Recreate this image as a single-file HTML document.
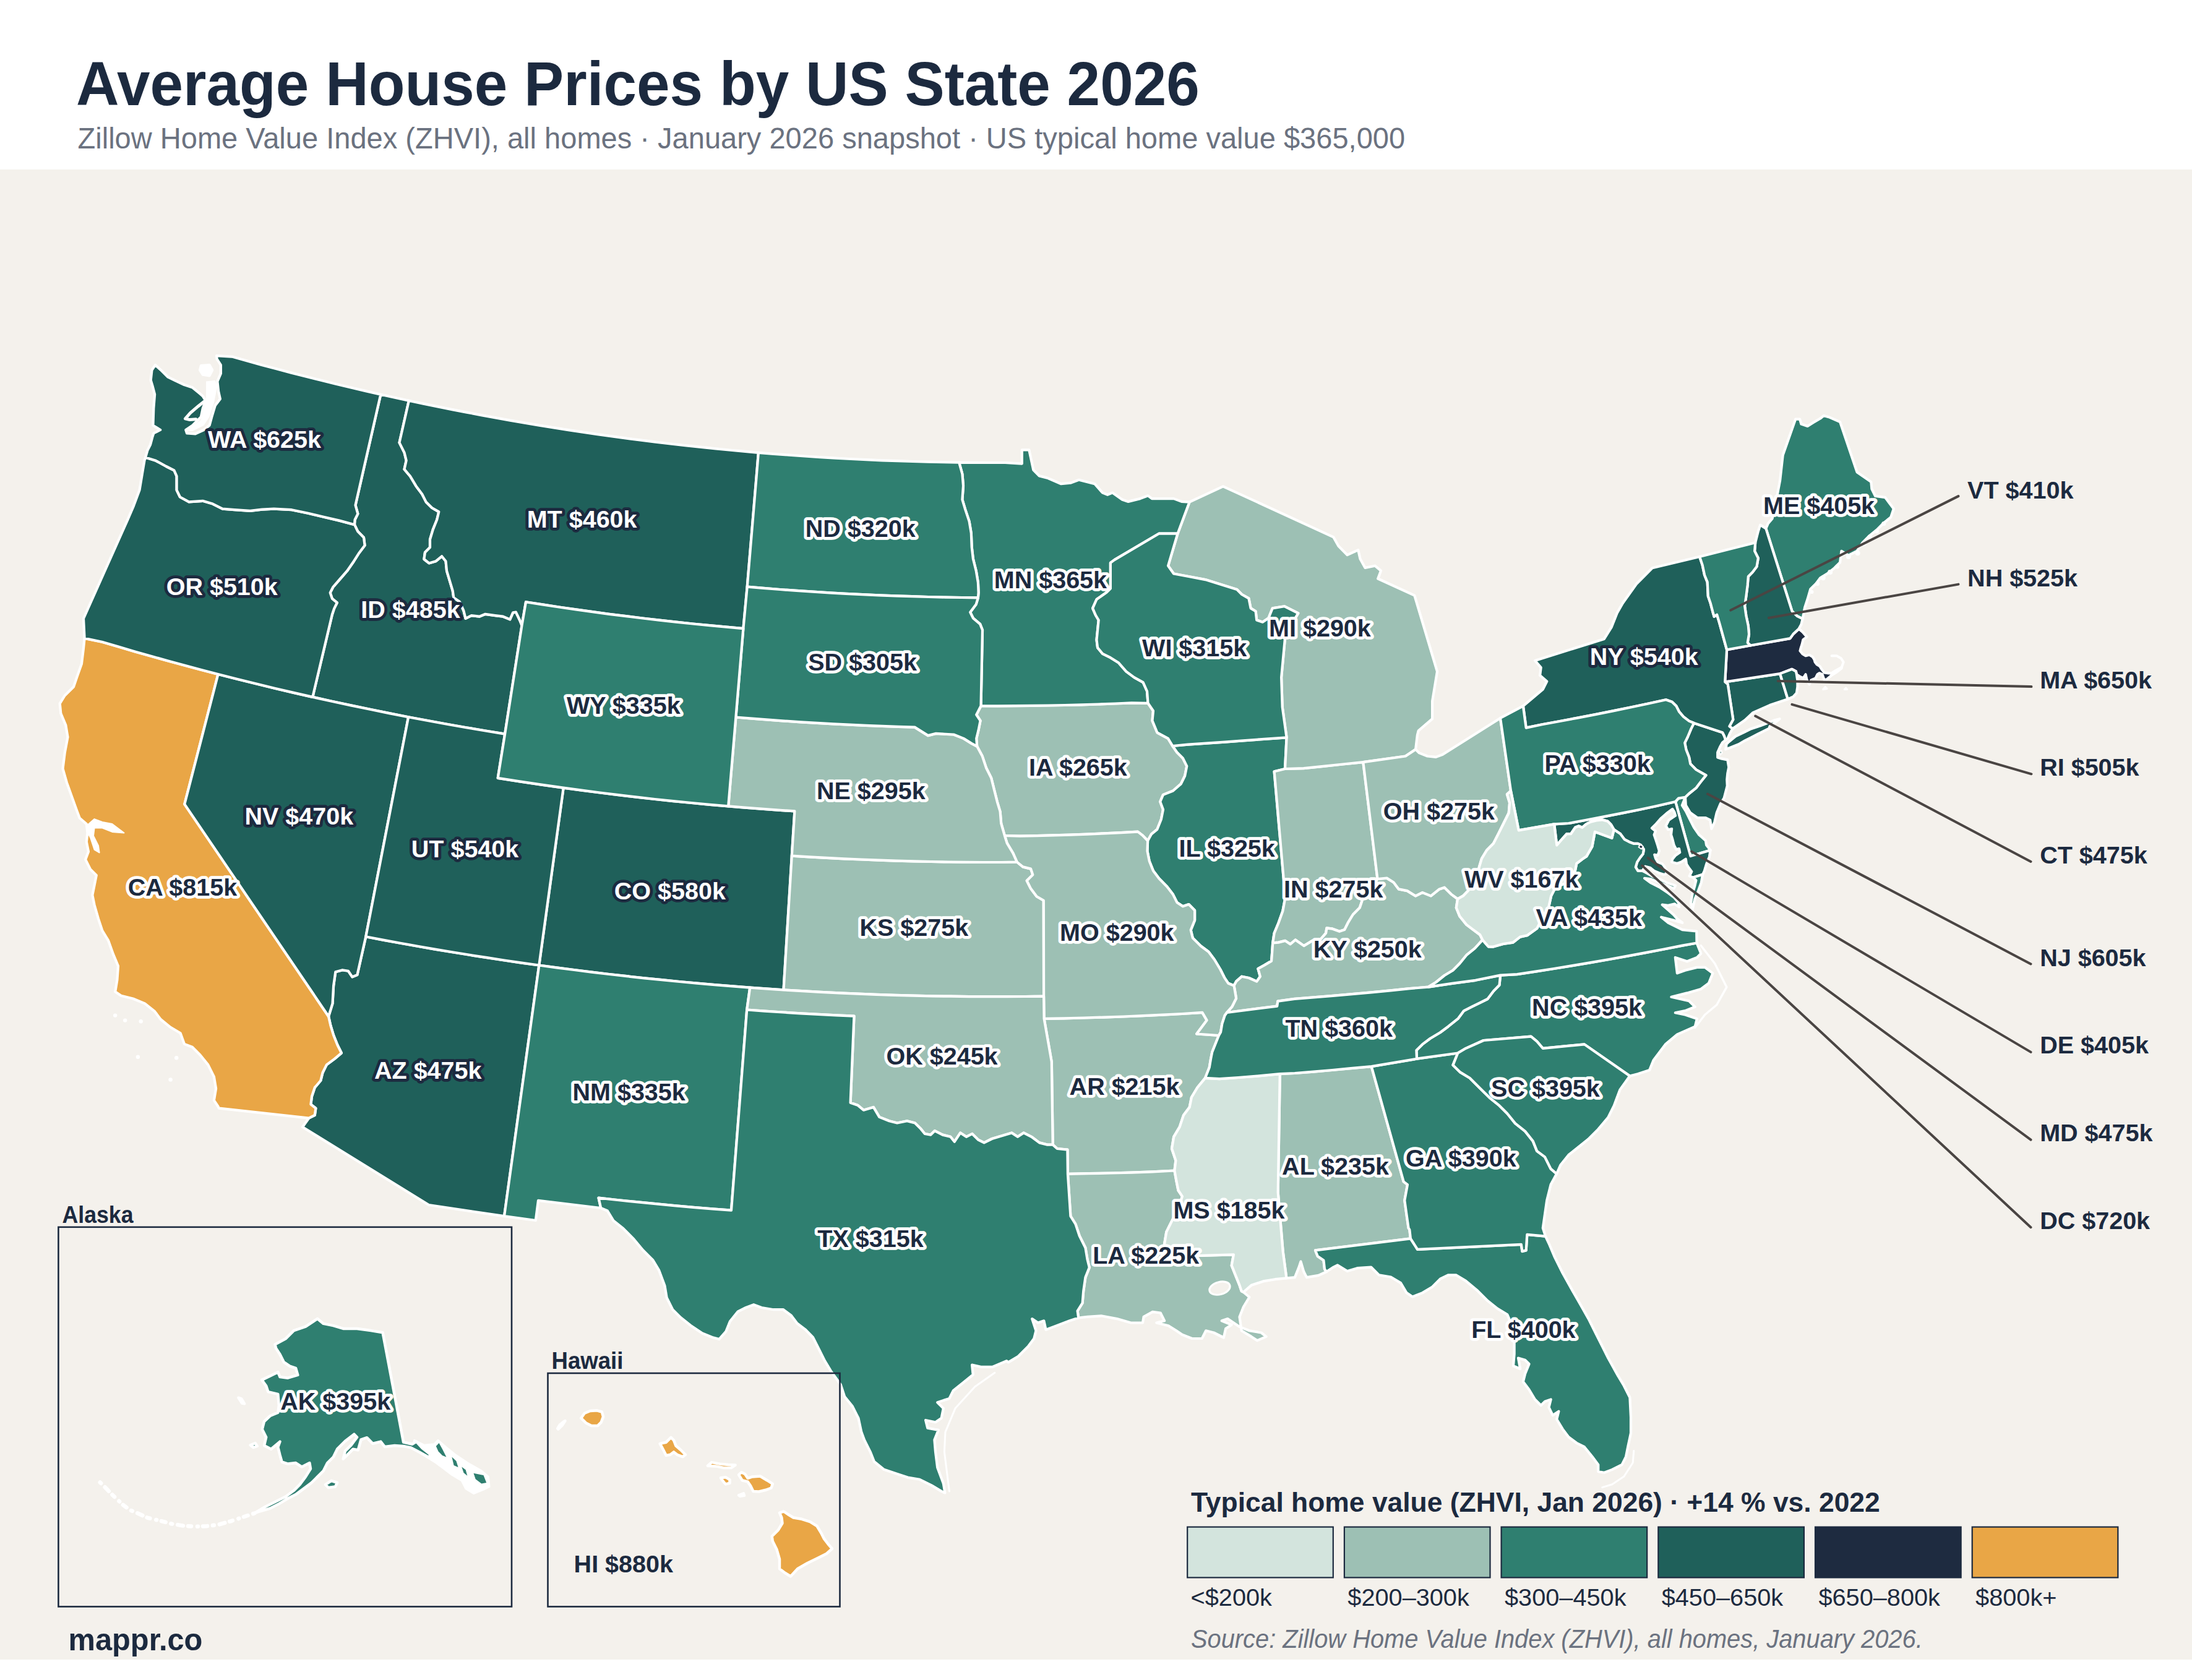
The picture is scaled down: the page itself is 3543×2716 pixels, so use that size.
<!DOCTYPE html>
<html lang="en"><head><meta charset="utf-8"><title>Average House Prices by US State 2026</title>
<style>html,body{margin:0;padding:0;background:#fff}body{width:3543px;height:2716px;position:relative;overflow:hidden}</style></head>
<body>
<svg width="3543" height="2716" viewBox="0 0 3543 2716" style="display:block;position:absolute;left:0;top:0">
<rect x="0" y="0" width="3543" height="2716" fill="#ffffff"/>
<rect x="0" y="274" width="3543" height="2409" fill="#f4f1ec"/>
<g stroke="#ffffff" stroke-width="4.2" stroke-linejoin="round">
<path d="M2068.8,1736.1 2092.7,1735.0 2122.9,1732.6 2153.1,1730.0 2183.2,1727.2 2216.7,1724.1 2268.7,1910.4 2275.0,1915.1 2270.3,1940.7 2273.4,1963.0 2276.6,1985.4 2278.3,1987.9 2279.9,2002.3 2126.0,2021.4 2129.8,2031.0 2139.4,2037.4 2141.0,2051.8 2144.0,2056.0 2131.2,2061.9 2112.0,2065.1 2107.2,2055.5 2102.5,2039.5 2099.3,2049.1 2092.9,2065.1 2079.4,2066.3 2073.7,2023.5 2065.7,1927.7 2068.8,1736.1Z" fill="#9dc0b4"/>
<path d="M1687.6,1646.8 1699.8,1716.5 1701.7,1850.6 1708.8,1857.0 1725.4,1858.6 1725.9,1897.8 1760.2,1897.2 1794.5,1896.5 1828.7,1895.6 1863.0,1894.4 1898.4,1892.5 1900.4,1876.1 1894.0,1857.0 1897.2,1837.8 1906.7,1821.9 1913.1,1802.7 1922.7,1789.9 1925.9,1774.0 1935.5,1758.0 1948.0,1742.8 1954.7,1725.8 1957.0,1712.1 1959.3,1700.7 1963.9,1689.3 1970.0,1674.0 1934.2,1671.5 1950.6,1649.4 1943.3,1636.9 1910.7,1639.0 1878.9,1640.7 1847.0,1642.2 1815.1,1643.5 1783.3,1644.6 1751.4,1645.5 1719.5,1646.3 1687.6,1646.8Z" fill="#9dc0b4"/>
<path d="M591.3,1514.3 619.2,1519.6 647.1,1524.7 675.1,1529.7 703.0,1534.6 731.0,1539.3 759.0,1543.8 787.1,1548.2 815.1,1552.5 843.2,1556.6 871.3,1560.5 815.0,1966.2 693.1,1948.0 489.0,1822.0 499.2,1807.7 508.8,1802.9 510.4,1791.7 502.4,1785.3 504.0,1772.5 508.8,1758.2 518.3,1747.0 521.5,1734.2 527.9,1721.4 540.7,1711.9 551.9,1702.3 545.5,1689.5 539.1,1673.5 534.3,1657.6 531.1,1643.2 537.5,1622.4 539.1,1593.7 542.3,1571.3 553.5,1568.2 563.0,1569.8 569.4,1579.3 577.4,1576.1 591.3,1514.3Z" fill="#1f605a"/>
<path d="M136.6,1031.9 164.8,1037.7 191.5,1045.6 218.2,1053.4 245.0,1061.0 271.8,1068.5 298.7,1075.8 325.6,1083.0 352.5,1090.0 298.3,1300.1 531.1,1643.2 534.3,1657.6 539.1,1673.5 545.5,1689.5 551.9,1702.3 540.7,1711.9 527.9,1721.4 521.5,1734.2 518.3,1747.0 508.8,1758.2 504.0,1772.5 502.4,1785.3 510.4,1791.7 508.8,1802.9 499.2,1807.7 353.9,1791.7 352.3,1788.5 345.9,1778.9 349.1,1759.8 345.9,1740.6 336.3,1721.4 323.5,1705.5 310.8,1692.7 298.0,1687.9 291.6,1670.3 275.6,1660.8 259.7,1648.0 250.1,1635.2 234.1,1622.4 215.0,1614.5 195.8,1609.7 186.2,1603.3 189.4,1584.1 191.0,1561.8 183.0,1542.6 175.0,1520.3 165.4,1504.6 159.0,1485.4 152.6,1463.0 149.4,1447.1 152.6,1431.1 155.8,1415.1 146.2,1405.6 138.2,1389.6 143.0,1376.8 139.8,1360.9 141.4,1346.5 139.8,1332.1 128.7,1322.5 123.9,1309.8 115.9,1287.4 107.9,1265.1 101.5,1242.7 104.7,1217.2 109.5,1191.6 106.3,1172.4 98.3,1153.3 96.7,1137.3 104.7,1124.5 119.1,1110.2 123.9,1095.8 131.9,1073.4 135.0,1047.9 136.6,1031.9Z" fill="#e9a646"/>
<path d="M1177.2,1303.4 1147.5,1300.8 1117.8,1298.0 1088.2,1295.1 1058.5,1292.0 1028.9,1288.6 999.3,1285.2 969.8,1281.5 940.2,1277.7 910.7,1273.7 871.3,1560.5 899.6,1564.4 928.0,1568.0 956.3,1571.6 984.7,1575.0 1013.1,1578.2 1041.5,1581.3 1069.9,1584.2 1098.3,1587.0 1126.8,1589.6 1155.2,1592.1 1183.7,1594.4 1212.2,1596.6 1266.5,1600.3 1279.8,1383.6 1284.4,1311.4 1257.5,1309.6 1230.7,1307.7 1203.9,1305.6 1177.2,1303.4Z" fill="#1f605a"/>
<path d="M2788.2,1102.4 2792.7,1106.2 2801.3,1163.2 2795.3,1174.2 2800.3,1178.2 2820.4,1164.2 2833.4,1152.1 2860.5,1140.1 2889.7,1130.2 2877.1,1089.1 2788.2,1102.4Z" fill="#1f605a"/>
<path d="M2708.1,1296.0 2732.5,1384.0 2764.6,1374.5 2758.1,1366.2 2756.9,1359.0 2746.2,1349.5 2737.9,1337.6 2730.7,1323.3 2724.8,1311.4 2718.8,1301.9 2724.0,1288.8 2712.9,1290.6 2708.1,1296.0Z" fill="#2f7f70"/>
<path d="M2279.9,2002.3 2126.0,2021.4 2129.8,2031.0 2139.4,2037.4 2141.0,2051.8 2144.0,2056.0 2155.4,2048.6 2161.8,2045.4 2177.7,2055.0 2193.7,2050.2 2216.1,2048.6 2228.8,2061.3 2248.0,2064.5 2264.0,2074.1 2273.5,2090.1 2283.1,2096.5 2299.1,2090.1 2315.1,2080.5 2327.8,2067.7 2340.6,2061.3 2353.4,2061.3 2369.3,2070.9 2388.5,2086.9 2404.5,2102.9 2420.4,2115.6 2436.4,2125.2 2444.4,2144.4 2447.6,2163.5 2447.6,2189.1 2446.0,2208.2 2457.2,2213.0 2454.0,2195.5 2465.1,2198.7 2471.5,2205.1 2465.1,2221.0 2461.9,2233.8 2471.5,2246.6 2481.1,2262.5 2490.7,2272.1 2497.1,2265.7 2506.7,2262.5 2503.5,2275.3 2509.8,2288.1 2519.4,2281.7 2516.2,2294.5 2525.8,2310.4 2535.4,2323.2 2548.2,2332.8 2560.9,2339.2 2573.7,2355.1 2583.3,2367.9 2583.3,2379.1 2592.9,2380.7 2605.7,2375.9 2621.6,2367.9 2628.0,2355.1 2631.2,2339.2 2636.0,2316.8 2636.0,2291.3 2634.4,2259.3 2624.8,2240.2 2615.2,2224.2 2599.3,2195.5 2589.7,2176.3 2580.1,2157.2 2567.3,2131.6 2554.6,2109.3 2541.8,2086.9 2525.8,2058.2 2513.0,2032.6 2503.5,2010.3 2498.0,1998.6 2468.3,1995.9 2466.7,2021.4 2460.4,2023.0 2458.8,2011.9 2291.1,2019.8 2279.9,2002.3Z" fill="#2f7f70"/>
<path d="M2216.7,1724.1 2290.0,1711.7 2356.3,1702.5 2348.5,1721.9 2359.7,1733.1 2375.6,1742.7 2391.6,1758.7 2407.6,1774.6 2423.5,1787.4 2436.3,1800.2 2449.1,1816.1 2465.1,1828.9 2477.8,1844.9 2484.2,1860.9 2497.0,1870.4 2506.6,1889.6 2516.1,1897.6 2506.6,1915.1 2500.2,1940.7 2497.0,1963.0 2493.8,1985.4 2498.0,1998.6 2468.3,1995.9 2466.7,2021.4 2460.4,2023.0 2458.8,2011.9 2291.1,2019.8 2279.9,2002.3 2278.3,1987.9 2276.6,1985.4 2273.4,1963.0 2270.3,1940.7 2275.0,1915.1 2268.7,1910.4 2216.7,1724.1Z" fill="#2f7f70"/>
<path d="M1585.5,1141.2 1578.2,1155.5 1584.6,1165.1 1581.4,1181.1 1578.2,1193.9 1579.2,1206.6 1587.8,1222.6 1594.2,1241.8 1602.2,1257.7 1607.0,1276.9 1611.8,1296.1 1616.6,1312.0 1618.2,1331.2 1623.9,1351.0 1648.5,1351.7 1675.7,1351.1 1703.0,1350.4 1730.2,1349.6 1757.5,1348.6 1784.7,1347.4 1811.9,1346.2 1839.1,1344.7 1846.5,1350.3 1855.1,1359.3 1860.9,1348.7 1870.4,1340.8 1876.8,1324.8 1880.0,1308.8 1875.2,1296.1 1880.0,1284.9 1896.0,1278.5 1908.8,1267.3 1915.1,1254.5 1918.3,1238.6 1911.9,1225.8 1902.4,1216.2 1895.3,1206.0 1888.0,1193.9 1870.4,1184.3 1862.5,1165.1 1864.0,1149.2 1855.5,1136.8 1829.1,1136.3 1802.1,1137.5 1775.0,1138.5 1747.9,1139.3 1720.9,1140.0 1693.8,1140.5 1666.7,1140.9 1639.7,1141.2 1612.6,1141.3 1585.5,1141.2Z" fill="#9dc0b4"/>
<path d="M615.3,637.7 660.9,647.7 645.5,715.6 653.5,731.6 656.7,744.4 653.5,758.7 663.0,769.9 672.6,785.9 682.2,798.7 688.6,811.4 698.2,821.0 709.3,827.4 706.2,840.2 699.8,856.1 695.0,872.1 695.0,884.9 687.0,892.9 685.4,904.0 693.4,910.4 704.6,907.2 714.1,899.3 720.5,907.2 722.1,923.2 726.9,939.2 731.7,955.1 733.3,966.3 742.9,972.7 749.3,987.1 752.5,999.8 762.0,995.1 774.8,996.7 784.4,992.8 800.4,995.1 813.1,996.7 824.3,1001.4 829.1,990.3 833.9,989.6 840.3,1003.0 843.5,1011.0 816.1,1186.6 784.8,1181.5 753.6,1176.2 722.4,1170.7 691.2,1165.0 660.1,1159.2 629.1,1153.1 598.1,1146.8 567.1,1140.4 536.2,1133.7 505.3,1126.9 536.9,993.5 540.1,983.9 544.9,974.3 536.9,967.9 533.7,958.3 538.5,948.8 549.7,936.0 560.9,923.2 572.0,907.2 580.0,894.5 589.6,881.7 588.0,868.9 578.4,859.3 573.0,848.2 573.6,840.2 578.4,830.6 574.5,816.7 615.3,637.7Z" fill="#1f605a"/>
<path d="M1855.1,1359.3 1854.5,1375.9 1857.7,1391.9 1864.0,1407.8 1873.6,1420.6 1886.4,1433.4 1896.0,1446.1 1902.4,1458.9 1911.9,1465.3 1921.5,1462.1 1931.1,1471.7 1931.1,1487.7 1924.7,1503.6 1927.9,1516.4 1940.7,1529.2 1953.5,1538.8 1963.0,1551.5 1972.6,1567.5 1979.0,1580.3 1985.4,1589.8 1994.5,1593.5 1998.1,1586.7 2007.2,1578.7 2018.6,1581.0 2031.2,1586.7 2036.9,1578.7 2033.4,1566.1 2043.7,1560.4 2055.1,1553.6 2056.2,1538.8 2057.2,1524.4 2059.6,1508.6 2066.4,1492.2 2073.3,1473.0 2077.4,1451.1 2059.6,1247.2 2077.0,1243.0 2079.6,1192.3 2009.2,1197.3 1979.5,1199.6 1949.7,1201.7 1920.0,1203.7 1895.3,1206.0 1902.4,1216.2 1911.9,1225.8 1918.3,1238.6 1915.1,1254.5 1908.8,1267.3 1896.0,1278.5 1880.0,1284.9 1875.2,1296.1 1880.0,1308.8 1876.8,1324.8 1870.4,1340.8 1860.9,1348.7 1855.1,1359.3Z" fill="#2f7f70"/>
<path d="M2077.0,1243.0 2059.6,1247.2 2077.4,1451.1 2073.3,1473.0 2066.4,1492.2 2059.6,1508.6 2057.2,1524.4 2066.4,1523.6 2077.4,1520.9 2085.6,1526.4 2093.8,1519.5 2107.5,1529.1 2121.2,1520.9 2134.9,1518.2 2143.1,1508.6 2144.4,1500.4 2154.0,1501.7 2165.0,1505.8 2173.2,1503.1 2178.6,1492.2 2186.9,1478.5 2197.8,1467.5 2203.3,1451.1 2214.2,1434.7 2226.5,1421.0 2203.3,1232.1 2170.4,1235.5 2138.7,1238.9 2107.0,1242.1 2077.0,1243.0Z" fill="#9dc0b4"/>
<path d="M1266.5,1600.3 1279.8,1383.6 1307.9,1385.3 1336.1,1386.9 1364.3,1388.3 1392.5,1389.5 1420.7,1390.6 1448.9,1391.6 1477.1,1392.4 1505.3,1393.0 1533.5,1393.5 1561.7,1393.8 1589.9,1394.0 1618.1,1394.0 1643.7,1393.5 1653.3,1401.4 1666.1,1404.6 1669.3,1414.2 1659.7,1423.8 1666.1,1436.6 1675.6,1449.3 1686.8,1455.7 1687.1,1610.7 1657.0,1611.0 1627.0,1611.2 1596.9,1611.2 1566.8,1611.1 1536.8,1610.7 1506.7,1610.3 1476.7,1609.6 1446.6,1608.8 1416.6,1607.8 1386.6,1606.6 1356.5,1605.3 1326.5,1603.8 1296.5,1602.2 1266.5,1600.3Z" fill="#9dc0b4"/>
<path d="M1994.5,1593.5 1995.8,1600.4 1998.1,1614.0 1991.2,1627.7 1983.0,1637.0 2064.2,1626.6 2065.4,1618.6 2092.3,1614.8 2123.4,1612.4 2154.4,1609.9 2185.5,1607.2 2216.5,1604.4 2247.5,1601.3 2278.6,1598.1 2308.7,1595.6 2321.0,1588.0 2334.7,1577.0 2348.4,1568.8 2359.3,1557.8 2370.3,1544.2 2383.9,1533.2 2396.3,1519.5 2392.2,1511.3 2381.2,1503.1 2370.3,1494.9 2359.3,1481.2 2353.8,1467.5 2356.0,1453.3 2345.6,1445.6 2334.7,1434.7 2326.5,1437.4 2312.8,1448.4 2299.1,1442.9 2288.1,1448.4 2274.5,1440.1 2260.8,1437.4 2252.6,1426.5 2241.6,1419.6 2226.5,1421.0 2214.2,1434.7 2203.3,1451.1 2197.8,1467.5 2186.9,1478.5 2178.6,1492.2 2173.2,1503.1 2165.0,1505.8 2154.0,1501.7 2144.4,1500.4 2143.1,1508.6 2134.9,1518.2 2121.2,1520.9 2107.5,1529.1 2093.8,1519.5 2085.6,1526.4 2077.4,1520.9 2066.4,1523.6 2057.2,1524.4 2056.2,1538.8 2055.1,1553.6 2043.7,1560.4 2033.4,1566.1 2036.9,1578.7 2031.2,1586.7 2018.6,1581.0 2007.2,1578.7 1998.1,1586.7 1994.5,1593.5Z" fill="#9dc0b4"/>
<path d="M1725.9,1897.8 1730.4,1966.1 1738.4,1978.8 1744.8,1998.0 1754.4,2017.2 1757.6,2036.3 1760.8,2049.1 1754.4,2065.1 1751.2,2087.4 1749.6,2106.6 1741.6,2119.3 1743.2,2130.5 1757.6,2128.9 1779.9,2127.3 1805.5,2132.1 1827.8,2138.5 1847.0,2138.5 1848.6,2128.9 1863.0,2120.9 1875.7,2122.5 1882.1,2135.3 1869.3,2138.5 1888.5,2143.3 1901.3,2151.3 1910.9,2157.7 1926.8,2164.0 1942.8,2164.0 1949.2,2151.3 1961.9,2154.5 1977.9,2162.5 1981.1,2148.1 1990.7,2141.7 1974.7,2135.3 1984.3,2132.1 2003.5,2144.9 2019.4,2151.3 2038.6,2154.5 2046.6,2160.9 2032.2,2167.2 2022.6,2160.9 2006.7,2151.3 2003.5,2128.9 2009.8,2113.0 2019.4,2097.0 2009.8,2089.0 2006.7,2087.4 2003.5,2077.8 1997.1,2061.9 1990.7,2045.9 1993.9,2028.3 1883.7,2031.5 1882.1,2010.8 1885.3,1991.6 1891.7,1978.8 1898.1,1966.1 1906.1,1950.1 1910.9,1934.1 1904.5,1924.5 1901.3,1908.6 1898.4,1892.5 1863.0,1894.4 1828.7,1895.6 1794.5,1896.5 1760.2,1897.2 1725.9,1897.8Z" fill="#9dc0b4"/>
<path d="M2791.1,1050.4 2788.2,1102.4 2877.1,1089.1 2896.5,1081.8 2902.9,1085.3 2903.9,1090.3 2908.5,1093.3 2914.5,1096.3 2918.5,1090.3 2920.5,1099.4 2924.5,1106.4 2927.5,1099.4 2934.6,1096.3 2937.6,1090.3 2940.6,1088.3 2945.6,1090.3 2948.6,1099.4 2952.6,1098.4 2959.6,1092.3 2967.7,1087.3 2976.7,1080.3 2976.7,1078.8 2966.7,1084.3 2960.6,1088.3 2955.6,1088.3 2948.6,1087.3 2944.6,1082.3 2941.6,1077.3 2936.6,1074.3 2933.6,1070.3 2932.5,1066.2 2929.5,1061.7 2924.5,1058.7 2918.5,1060.2 2913.5,1057.2 2909.5,1052.2 2910.5,1048.2 2912.5,1042.2 2914.5,1034.1 2920.5,1029.6 2913.5,1021.6 2907.5,1016.6 2898.4,1025.1 2893.4,1032.1 2829.2,1043.5 2791.1,1050.4Z" fill="#1e2b40"/>
<path d="M2512.2,1332.4 2516.3,1366.3 2524.3,1357.2 2532.3,1348.1 2539.1,1348.1 2546.0,1337.8 2551.7,1335.5 2557.4,1337.8 2564.2,1332.1 2571.1,1328.7 2580.2,1326.4 2589.3,1325.3 2598.4,1327.6 2604.1,1333.3 2608.7,1341.2 2619.0,1348.1 2625.8,1357.2 2634.9,1361.8 2640.2,1363.8 2647.4,1363.8 2652.1,1366.2 2656.9,1373.3 2655.7,1380.5 2651.0,1386.4 2646.2,1393.6 2643.8,1401.9 2647.4,1407.9 2654.5,1407.9 2659.3,1400.7 2667.6,1403.1 2673.6,1407.9 2681.9,1411.4 2689.0,1413.8 2692.6,1413.2 2693.8,1407.9 2690.2,1400.7 2686.7,1396.5 2679.5,1393.6 2676.0,1387.6 2674.2,1381.7 2679.5,1382.9 2681.9,1375.7 2679.5,1367.4 2676.0,1356.7 2673.6,1349.5 2676.0,1343.6 2670.0,1338.8 2677.1,1331.7 2684.3,1323.3 2693.8,1315.0 2703.3,1307.9 2706.3,1312.6 2708.1,1318.6 2697.4,1325.7 2692.6,1335.2 2696.2,1341.2 2702.1,1340.0 2701.0,1349.5 2703.3,1356.7 2705.7,1366.2 2709.3,1373.3 2714.0,1372.1 2715.2,1378.1 2708.1,1382.9 2703.3,1388.8 2702.1,1393.6 2710.5,1396.0 2717.6,1393.6 2724.8,1388.8 2726.0,1397.1 2730.7,1404.3 2734.3,1409.0 2730.7,1416.2 2736.7,1418.6 2752.1,1413.8 2754.5,1409.0 2758.1,1397.1 2762.9,1385.2 2764.6,1374.5 2732.5,1384.0 2708.1,1296.0 2676.6,1303.3 2648.4,1309.2 2620.2,1314.9 2591.9,1320.4 2563.6,1325.8 2535.3,1331.0 2512.2,1332.4Z" fill="#1f605a"/>
<path d="M2854.3,854.4 2896.5,987.9 2904.5,995.8 2913.6,1000.4 2917.1,982.1 2921.6,968.5 2926.2,952.5 2935.3,943.4 2942.2,934.2 2953.6,927.4 2965.0,918.3 2974.1,909.2 2976.4,890.9 2987.8,897.8 3001.5,890.9 3010.6,877.2 3022.0,865.8 3033.4,856.7 3044.8,845.3 3056.2,836.2 3060.8,822.5 3047.1,804.2 3031.1,802.0 3025.4,790.5 3024.3,779.1 3001.5,763.2 2974.1,682.2 2955.8,674.2 2947.9,671.9 2942.2,676.5 2930.7,683.3 2921.6,689.0 2911.4,685.6 2909.1,677.6 2902.2,677.6 2881.7,735.8 2877.1,776.9 2871.4,806.5 2864.6,838.4 2857.8,846.4 2854.3,854.4Z" fill="#2f7f70"/>
<path d="M1922.6,811.6 1903.5,862.7 1888.1,914.7 1897.1,927.5 1922.6,932.3 1948.2,937.1 1973.7,945.1 1999.3,953.0 2007.2,961.0 2018.4,967.4 2021.6,983.4 2029.6,988.2 2031.2,1002.5 2040.8,1005.7 2050.4,999.3 2056.7,983.4 2075.9,980.2 2098.3,991.4 2077.5,1026.5 2071.1,1095.1 2072.7,1143.0 2079.6,1192.3 2077.0,1243.0 2107.0,1242.1 2138.7,1238.9 2170.4,1235.5 2203.3,1232.1 2271.7,1222.5 2288.1,1211.6 2290.9,1188.3 2292.7,1181.4 2315.1,1162.2 2315.1,1133.5 2323.0,1085.6 2286.3,962.6 2227.2,935.5 2232.0,922.7 2222.4,914.7 2206.5,917.9 2198.5,903.5 2195.3,889.2 2177.7,897.2 2163.4,882.8 2155.4,868.4 1976.9,786.3 1922.6,811.6Z" fill="#9dc0b4"/>
<path d="M1550.2,747.6 1555.4,766.2 1557.0,785.4 1555.4,807.7 1560.2,823.7 1566.6,842.9 1569.8,862.0 1570.7,884.4 1572.9,903.5 1577.7,922.7 1580.9,941.9 1581.6,957.8 1580.9,966.4 1577.7,977.0 1568.2,989.8 1572.9,999.3 1584.1,1008.9 1588.0,1018.5 1585.5,1141.2 1612.6,1141.3 1639.7,1141.2 1666.7,1140.9 1693.8,1140.5 1720.9,1140.0 1747.9,1139.3 1775.0,1138.5 1802.1,1137.5 1829.1,1136.3 1855.5,1136.8 1854.0,1117.5 1847.6,1103.1 1833.2,1095.1 1820.4,1085.6 1807.7,1071.2 1794.9,1063.2 1782.1,1056.8 1774.1,1047.2 1772.5,1034.5 1774.1,1018.5 1775.7,1002.5 1770.9,994.5 1766.1,983.4 1772.5,969.0 1788.5,957.8 1794.9,951.4 1794.9,909.9 1801.3,905.1 1873.1,862.7 1903.5,862.7 1922.6,811.6 1909.8,810.9 1897.1,806.1 1861.9,806.1 1855.6,801.3 1842.8,806.1 1823.6,810.9 1814.0,807.7 1798.1,796.6 1790.1,799.8 1782.1,796.6 1769.3,782.2 1756.6,779.0 1743.8,775.8 1731.0,780.6 1715.1,782.2 1692.7,772.6 1679.9,769.4 1670.3,759.8 1663.3,727.3 1651.8,727.3 1651.8,749.6 1624.5,748.0 1599.8,748.0 1575.0,747.9 1550.2,747.6Z" fill="#2f7f70"/>
<path d="M1623.9,1351.0 1627.7,1363.1 1637.3,1379.1 1643.7,1393.5 1653.3,1401.4 1666.1,1404.6 1669.3,1414.2 1659.7,1423.8 1666.1,1436.6 1675.6,1449.3 1686.8,1455.7 1687.1,1610.7 1687.6,1646.8 1719.5,1646.3 1751.4,1645.5 1783.3,1644.6 1815.1,1643.5 1847.0,1642.2 1878.9,1640.7 1910.7,1639.0 1943.3,1636.9 1950.6,1649.4 1934.2,1671.5 1970.0,1674.0 1973.0,1668.8 1975.3,1655.1 1979.8,1641.4 1983.0,1637.0 1991.2,1627.7 1998.1,1614.0 1995.8,1600.4 1994.5,1593.5 1985.4,1589.8 1979.0,1580.3 1972.6,1567.5 1963.0,1551.5 1953.5,1538.8 1940.7,1529.2 1927.9,1516.4 1924.7,1503.6 1931.1,1487.7 1931.1,1471.7 1921.5,1462.1 1911.9,1465.3 1902.4,1458.9 1896.0,1446.1 1886.4,1433.4 1873.6,1420.6 1864.0,1407.8 1857.7,1391.9 1854.5,1375.9 1855.1,1359.3 1846.5,1350.3 1839.1,1344.7 1811.9,1346.2 1784.7,1347.4 1757.5,1348.6 1730.2,1349.6 1703.0,1350.4 1675.7,1351.1 1648.5,1351.7 1623.9,1351.0Z" fill="#9dc0b4"/>
<path d="M1898.4,1892.5 1901.3,1908.6 1904.5,1924.5 1910.9,1934.1 1906.1,1950.1 1898.1,1966.1 1891.7,1978.8 1885.3,1991.6 1882.1,2010.8 1883.7,2031.5 1993.9,2028.3 1990.7,2045.9 1997.1,2061.9 2003.5,2077.8 2006.7,2087.4 2009.8,2089.0 2022.6,2077.8 2041.8,2071.4 2060.9,2068.2 2079.4,2066.3 2073.7,2023.5 2065.7,1927.7 2068.8,1736.1 2032.0,1739.7 2001.6,1742.0 1971.1,1744.1 1948.0,1742.8 1935.5,1758.0 1925.9,1774.0 1922.7,1789.9 1913.1,1802.7 1906.7,1821.9 1897.2,1837.8 1894.0,1857.0 1900.4,1876.1 1898.4,1892.5Z" fill="#d3e4dd"/>
<path d="M660.9,647.7 684.2,652.6 707.5,657.4 730.9,662.1 754.3,666.6 777.7,671.1 801.1,675.4 824.5,679.6 848.0,683.6 871.5,687.6 895.0,691.4 918.5,695.1 942.1,698.6 965.6,702.1 989.2,705.4 1012.8,708.6 1036.4,711.7 1060.0,714.6 1083.7,717.5 1107.4,720.2 1131.0,722.7 1154.7,725.2 1178.4,727.5 1202.1,729.7 1225.9,731.8 1207.7,948.7 1201.4,1016.1 1174.2,1013.7 1147.1,1011.2 1120.0,1008.5 1092.9,1005.7 1065.8,1002.7 1038.8,999.5 1011.8,996.2 984.7,992.8 957.8,989.2 930.8,985.4 903.8,981.5 876.9,977.4 850.0,973.2 843.5,1011.0 840.3,1003.0 833.9,989.6 829.1,990.3 824.3,1001.4 813.1,996.7 800.4,995.1 784.4,992.8 774.8,996.7 762.0,995.1 752.5,999.8 749.3,987.1 742.9,972.7 733.3,966.3 731.7,955.1 726.9,939.2 722.1,923.2 720.5,907.2 714.1,899.3 704.6,907.2 693.4,910.4 685.4,904.0 687.0,892.9 695.0,884.9 695.0,872.1 699.8,856.1 706.2,840.2 709.3,827.4 698.2,821.0 688.6,811.4 682.2,798.7 672.6,785.9 663.0,769.9 653.5,758.7 656.7,744.4 653.5,731.6 645.5,715.6 660.9,647.7Z" fill="#1f605a"/>
<path d="M2425.1,1576.6 2423.5,1592.6 2414.0,1602.2 2404.4,1615.0 2391.6,1621.3 2378.8,1627.7 2366.1,1634.1 2356.5,1646.9 2340.5,1659.7 2327.7,1669.3 2311.8,1678.8 2299.0,1688.4 2289.4,1698.0 2290.0,1711.7 2356.3,1702.5 2369.3,1694.8 2398.0,1682.0 2474.6,1675.6 2484.2,1683.6 2493.8,1694.8 2560.9,1688.4 2634.3,1739.5 2647.1,1736.3 2666.2,1729.9 2672.6,1714.0 2691.8,1688.4 2710.9,1672.4 2739.7,1659.7 2742.9,1646.9 2723.7,1640.5 2707.8,1637.3 2723.7,1634.1 2739.7,1627.7 2730.1,1618.2 2701.4,1611.8 2726.9,1605.4 2749.3,1599.0 2762.0,1589.4 2768.4,1573.4 2755.7,1563.9 2742.9,1563.9 2723.7,1568.7 2710.9,1573.4 2707.8,1547.9 2726.9,1554.3 2742.9,1547.9 2749.3,1541.5 2742.5,1524.5 2719.2,1528.6 2689.6,1534.5 2660.0,1540.1 2630.4,1545.6 2600.8,1551.0 2571.1,1556.1 2541.4,1561.1 2511.6,1566.0 2481.9,1570.6 2452.1,1575.2 2425.1,1576.6Z" fill="#2f7f70"/>
<path d="M1225.9,731.8 1250.8,733.8 1275.7,735.7 1300.6,737.5 1325.5,739.1 1350.5,740.6 1375.4,742.0 1400.4,743.2 1425.3,744.3 1450.3,745.2 1475.3,746.0 1500.3,746.7 1525.2,747.2 1550.2,747.6 1555.4,766.2 1557.0,785.4 1555.4,807.7 1560.2,823.7 1566.6,842.9 1569.8,862.0 1570.7,884.4 1572.9,903.5 1577.7,922.7 1580.9,941.9 1581.6,957.8 1580.9,966.4 1554.2,966.0 1527.5,965.6 1500.8,965.0 1474.1,964.2 1447.4,963.4 1420.8,962.3 1394.1,961.1 1367.4,959.8 1340.8,958.3 1314.1,956.7 1287.5,954.9 1260.9,953.0 1234.3,950.9 1207.7,948.7 1225.9,731.8Z" fill="#2f7f70"/>
<path d="M1189.4,1159.5 1177.2,1303.4 1203.9,1305.6 1230.7,1307.7 1257.5,1309.6 1284.4,1311.4 1279.8,1383.6 1307.9,1385.3 1336.1,1386.9 1364.3,1388.3 1392.5,1389.5 1420.7,1390.6 1448.9,1391.6 1477.1,1392.4 1505.3,1393.0 1533.5,1393.5 1561.7,1393.8 1589.9,1394.0 1618.1,1394.0 1643.7,1393.5 1637.3,1379.1 1627.7,1363.1 1623.9,1351.0 1618.2,1331.2 1616.6,1312.0 1611.8,1296.1 1607.0,1276.9 1602.2,1257.7 1594.2,1241.8 1587.8,1222.6 1579.2,1206.6 1570.3,1201.9 1557.5,1193.9 1541.5,1187.5 1512.8,1185.9 1500.0,1189.1 1478.5,1175.6 1452.1,1174.8 1425.8,1173.9 1399.5,1172.9 1373.2,1171.7 1346.9,1170.4 1320.7,1168.9 1294.4,1167.3 1268.1,1165.6 1241.9,1163.7 1215.6,1161.7 1189.4,1159.5Z" fill="#9dc0b4"/>
<path d="M2829.2,1043.5 2893.4,1032.1 2898.4,1025.1 2907.5,1016.6 2911.4,1009.5 2913.6,1000.4 2904.5,995.8 2896.5,987.9 2854.3,854.4 2845.2,848.7 2841.8,859.0 2837.2,877.2 2836.1,890.9 2841.8,902.3 2839.5,916.0 2832.7,925.1 2825.8,932.0 2824.7,945.7 2822.4,963.7 2820.1,979.7 2822.4,995.6 2825.8,1011.6 2827.0,1025.3 2824.7,1039.0 2829.2,1043.5Z" fill="#1f605a"/>
<path d="M2738.0,1169.0 2733.4,1178.1 2727.7,1191.8 2723.2,1200.9 2725.5,1212.3 2730.0,1223.7 2732.3,1235.1 2741.4,1244.2 2757.4,1253.4 2748.3,1264.8 2741.4,1273.9 2730.0,1283.0 2724.0,1288.8 2724.8,1301.9 2731.9,1313.8 2743.8,1322.1 2756.9,1322.1 2764.1,1325.7 2766.4,1340.0 2771.2,1329.3 2774.8,1313.8 2780.7,1299.5 2786.7,1290.0 2791.8,1270.5 2791.3,1260.5 2792.3,1250.5 2794.3,1240.4 2792.3,1228.4 2782.2,1226.4 2776.2,1224.4 2776.2,1216.3 2780.2,1207.3 2784.2,1200.3 2789.2,1196.3 2787.2,1190.3 2784.2,1184.2 2738.0,1169.0Z" fill="#1f605a"/>
<path d="M871.3,1560.5 899.6,1564.4 928.0,1568.0 956.3,1571.6 984.7,1575.0 1013.1,1578.2 1041.5,1581.3 1069.9,1584.2 1098.3,1587.0 1126.8,1589.6 1155.2,1592.1 1183.7,1594.4 1212.2,1596.6 1207.2,1632.5 1182.0,1956.7 1151.3,1954.3 1120.6,1951.8 1090.0,1949.1 1059.3,1946.2 1028.7,1943.2 998.1,1940.0 967.5,1936.6 971.2,1953.0 870.0,1940.8 865.8,1973.0 815.0,1966.2 871.3,1560.5Z" fill="#2f7f70"/>
<path d="M352.5,1090.0 383.0,1097.8 413.5,1105.3 444.0,1112.7 474.6,1119.9 505.3,1126.9 536.2,1133.7 567.1,1140.4 598.1,1146.8 629.1,1153.1 660.1,1159.2 591.3,1514.3 577.4,1576.1 569.4,1579.3 563.0,1569.8 553.5,1568.2 542.3,1571.3 539.1,1593.7 537.5,1622.4 531.1,1643.2 298.3,1300.1 352.5,1090.0Z" fill="#1f605a"/>
<path d="M2738.0,1169.0 2784.2,1184.2 2787.2,1190.3 2789.2,1196.3 2792.3,1194.3 2796.3,1185.2 2800.3,1178.2 2795.3,1174.2 2801.3,1163.2 2792.7,1106.2 2788.2,1102.4 2791.1,1050.4 2784.8,1027.6 2779.1,1007.0 2775.2,993.8 2770.6,996.8 2768.3,988.8 2764.7,975.1 2760.8,963.7 2759.7,941.1 2755.1,929.7 2751.7,913.7 2747.1,900.0 2670.7,918.3 2645.6,943.4 2622.8,975.3 2613.7,991.3 2604.6,1014.1 2592.9,1032.9 2481.1,1068.0 2490.7,1079.2 2489.1,1091.9 2500.3,1101.5 2493.9,1114.3 2461.9,1141.4 2466.7,1176.6 2492.5,1171.2 2521.2,1166.0 2549.9,1160.6 2578.5,1155.1 2607.1,1149.4 2635.7,1143.5 2664.2,1137.5 2692.7,1131.3 2702.6,1134.8 2709.5,1141.6 2714.1,1150.7 2720.9,1158.7 2730.0,1165.6 2738.0,1169.0Z" fill="#1f605a"/>
<path d="M2203.3,1232.1 2226.5,1421.0 2241.6,1419.6 2252.6,1426.5 2260.8,1437.4 2274.5,1440.1 2288.1,1448.4 2299.1,1442.9 2312.8,1448.4 2326.5,1437.4 2334.7,1434.7 2345.6,1445.6 2356.0,1453.3 2364.8,1448.4 2373.0,1440.1 2378.5,1426.5 2389.4,1412.8 2390.8,1401.8 2394.9,1388.1 2403.1,1374.5 2414.0,1363.5 2422.3,1347.1 2430.5,1330.7 2438.7,1314.2 2440.1,1297.8 2435.9,1284.1 2442.0,1278.6 2425.0,1160.9 2331.9,1219.8 2321.0,1223.9 2307.3,1222.5 2293.6,1217.1 2288.1,1211.6 2271.7,1222.5 2203.3,1232.1Z" fill="#9dc0b4"/>
<path d="M1207.2,1632.5 1212.2,1596.6 1266.5,1600.3 1296.5,1602.2 1326.5,1603.8 1356.5,1605.3 1386.6,1606.6 1416.6,1607.8 1446.6,1608.8 1476.7,1609.6 1506.7,1610.3 1536.8,1610.7 1566.8,1611.1 1596.9,1611.2 1627.0,1611.2 1657.0,1611.0 1687.1,1610.7 1687.6,1646.8 1699.8,1716.5 1701.7,1850.6 1692.8,1850.6 1680.0,1847.4 1667.2,1837.8 1654.5,1831.4 1644.9,1837.8 1635.3,1831.4 1619.3,1836.2 1603.4,1841.0 1590.6,1847.4 1581.0,1842.6 1571.4,1833.0 1561.9,1837.8 1552.3,1831.4 1542.7,1845.8 1536.3,1837.8 1523.5,1834.6 1510.8,1828.2 1504.4,1834.6 1494.8,1833.0 1488.4,1825.1 1478.8,1815.5 1466.1,1812.3 1450.1,1815.5 1437.3,1812.3 1421.3,1805.9 1411.8,1789.9 1395.8,1794.7 1386.2,1786.7 1374.6,1782.8 1380.5,1642.6 1351.6,1641.3 1322.7,1639.9 1293.8,1638.3 1265.0,1636.5 1236.1,1634.6 1207.2,1632.5Z" fill="#9dc0b4"/>
<path d="M235.1,739.6 251.1,744.4 268.7,754.0 281.4,760.3 285.6,769.9 285.6,792.3 291.0,803.5 305.4,811.4 327.7,809.8 343.7,814.6 359.7,822.6 378.8,824.2 404.4,825.8 423.5,823.6 442.7,822.6 471.4,824.2 498.0,829.7 523.2,835.7 548.5,841.6 573.0,848.2 578.4,859.3 588.0,868.9 589.6,881.7 580.0,894.5 572.0,907.2 560.9,923.2 549.7,936.0 538.5,948.8 533.7,958.3 536.9,967.9 544.9,974.3 540.1,983.9 536.9,993.5 505.3,1126.9 474.6,1119.9 444.0,1112.7 413.5,1105.3 383.0,1097.8 352.5,1090.0 325.6,1083.0 298.7,1075.8 271.8,1068.5 245.0,1061.0 218.2,1053.4 191.5,1045.6 164.8,1037.7 136.6,1031.9 135.0,1000.0 200.0,854.5 206.4,840.2 216.0,817.8 225.5,792.3 230.3,763.5 233.5,744.4 235.1,739.6Z" fill="#1f605a"/>
<path d="M2425.0,1160.9 2442.0,1278.6 2454.7,1342.4 2512.2,1332.4 2535.3,1331.0 2563.6,1325.8 2591.9,1320.4 2620.2,1314.9 2648.4,1309.2 2676.6,1303.3 2708.1,1296.0 2712.9,1290.6 2724.0,1288.8 2730.0,1283.0 2741.4,1273.9 2748.3,1264.8 2757.4,1253.4 2741.4,1244.2 2732.3,1235.1 2730.0,1223.7 2725.5,1212.3 2723.2,1200.9 2727.7,1191.8 2733.4,1178.1 2738.0,1169.0 2730.0,1165.6 2720.9,1158.7 2714.1,1150.7 2709.5,1141.6 2702.6,1134.8 2692.7,1131.3 2664.2,1137.5 2635.7,1143.5 2607.1,1149.4 2578.5,1155.1 2549.9,1160.6 2521.2,1166.0 2492.5,1171.2 2466.7,1176.6 2461.9,1141.4 2425.0,1160.9Z" fill="#2f7f70"/>
<path d="M2877.1,1089.1 2889.7,1130.2 2898.4,1126.5 2903.9,1120.4 2905.4,1110.4 2905.4,1100.4 2903.9,1090.3 2902.9,1085.3 2896.5,1081.8 2877.1,1089.1Z" fill="#1f605a"/>
<path d="M2356.3,1702.5 2348.5,1721.9 2359.7,1733.1 2375.6,1742.7 2391.6,1758.7 2407.6,1774.6 2423.5,1787.4 2436.3,1800.2 2449.1,1816.1 2465.1,1828.9 2477.8,1844.9 2484.2,1860.9 2497.0,1870.4 2506.6,1889.6 2516.1,1897.6 2522.5,1883.2 2535.3,1867.2 2551.3,1854.5 2567.2,1841.7 2583.2,1825.7 2599.2,1806.6 2608.8,1787.4 2618.3,1761.9 2634.3,1739.5 2560.9,1688.4 2493.8,1694.8 2484.2,1683.6 2474.6,1675.6 2398.0,1682.0 2369.3,1694.8 2356.3,1702.5Z" fill="#2f7f70"/>
<path d="M1201.4,1016.1 1207.7,948.7 1234.3,950.9 1260.9,953.0 1287.5,954.9 1314.1,956.7 1340.8,958.3 1367.4,959.8 1394.1,961.1 1420.8,962.3 1447.4,963.4 1474.1,964.2 1500.8,965.0 1527.5,965.6 1554.2,966.0 1580.9,966.4 1577.7,977.0 1568.2,989.8 1572.9,999.3 1584.1,1008.9 1588.0,1018.5 1585.5,1141.2 1578.2,1155.5 1584.6,1165.1 1581.4,1181.1 1578.2,1193.9 1579.2,1206.6 1570.3,1201.9 1557.5,1193.9 1541.5,1187.5 1512.8,1185.9 1500.0,1189.1 1478.5,1175.6 1452.1,1174.8 1425.8,1173.9 1399.5,1172.9 1373.2,1171.7 1346.9,1170.4 1320.7,1168.9 1294.4,1167.3 1268.1,1165.6 1241.9,1163.7 1215.6,1161.7 1189.4,1159.5 1201.4,1016.1Z" fill="#2f7f70"/>
<path d="M1970.0,1674.0 1963.9,1689.3 1959.3,1700.7 1957.0,1712.1 1954.7,1725.8 1948.0,1742.8 1971.1,1744.1 2001.6,1742.0 2032.0,1739.7 2068.8,1736.1 2092.7,1735.0 2122.9,1732.6 2153.1,1730.0 2183.2,1727.2 2216.7,1724.1 2290.0,1711.7 2289.4,1698.0 2299.0,1688.4 2311.8,1678.8 2327.7,1669.3 2340.5,1659.7 2356.5,1646.9 2366.1,1634.1 2378.8,1627.7 2391.6,1621.3 2404.4,1615.0 2414.0,1602.2 2423.5,1592.6 2425.1,1576.6 2384.8,1584.8 2347.2,1589.9 2308.7,1595.6 2278.6,1598.1 2247.5,1601.3 2216.5,1604.4 2185.5,1607.2 2154.4,1609.9 2123.4,1612.4 2092.3,1614.8 2065.4,1618.6 2064.2,1626.6 1983.0,1637.0 1979.8,1641.4 1975.3,1655.1 1973.0,1668.8 1970.0,1674.0Z" fill="#2f7f70"/>
<path d="M971.2,1953.0 967.5,1936.6 998.1,1940.0 1028.7,1943.2 1059.3,1946.2 1090.0,1949.1 1120.6,1951.8 1151.3,1954.3 1182.0,1956.7 1207.2,1632.5 1236.1,1634.6 1265.0,1636.5 1293.8,1638.3 1322.7,1639.9 1351.6,1641.3 1380.5,1642.6 1374.6,1782.8 1386.2,1786.7 1395.8,1794.7 1411.8,1789.9 1421.3,1805.9 1437.3,1812.3 1450.1,1815.5 1466.1,1812.3 1478.8,1815.5 1488.4,1825.1 1494.8,1833.0 1504.4,1834.6 1510.8,1828.2 1523.5,1834.6 1536.3,1837.8 1542.7,1845.8 1552.3,1831.4 1561.9,1837.8 1571.4,1833.0 1581.0,1842.6 1590.6,1847.4 1603.4,1841.0 1619.3,1836.2 1635.3,1831.4 1644.9,1837.8 1654.5,1831.4 1667.2,1837.8 1680.0,1847.4 1692.8,1850.6 1701.7,1850.6 1708.8,1857.0 1725.4,1858.6 1725.9,1897.8 1730.4,1966.1 1738.4,1978.8 1744.8,1998.0 1754.4,2017.2 1757.6,2036.3 1760.8,2049.1 1754.4,2065.1 1751.2,2087.4 1749.6,2106.6 1741.6,2119.3 1743.2,2130.5 1728.8,2135.3 1703.3,2144.9 1690.5,2149.7 1687.3,2135.3 1677.7,2138.5 1668.2,2132.1 1674.5,2151.3 1671.3,2164.0 1661.8,2176.8 1645.8,2192.8 1629.8,2202.4 1627.0,2200.2 1604.6,2209.8 1585.5,2209.8 1571.1,2206.6 1572.7,2222.5 1556.7,2235.3 1540.8,2248.1 1534.4,2260.9 1515.2,2267.2 1524.8,2276.8 1521.6,2292.8 1512.0,2299.2 1496.1,2296.0 1499.3,2308.8 1516.8,2311.9 1510.4,2327.9 1512.0,2347.1 1515.2,2372.6 1524.8,2398.2 1527.4,2413.5 1521.6,2410.9 1505.7,2401.4 1486.5,2391.8 1467.3,2388.6 1448.2,2382.2 1429.0,2375.8 1413.0,2363.0 1406.7,2347.1 1397.1,2327.9 1392.3,2315.1 1387.5,2292.8 1377.9,2273.6 1365.1,2257.7 1358.8,2238.5 1342.8,2216.1 1333.2,2200.2 1323.6,2181.0 1314.0,2161.9 1301.3,2149.1 1288.5,2139.5 1278.9,2126.7 1266.1,2117.2 1250.2,2117.2 1231.0,2114.0 1218.2,2109.2 1205.5,2114.0 1192.7,2120.3 1179.9,2136.3 1173.5,2152.3 1162.4,2165.1 1151.2,2161.9 1135.2,2155.5 1116.1,2142.7 1100.1,2129.9 1087.3,2117.2 1077.7,2098.0 1074.5,2078.8 1065.0,2053.3 1055.4,2037.3 1039.4,2021.3 1023.4,2002.2 1007.5,1986.2 991.5,1973.4 981.9,1957.5 971.2,1953.0Z" fill="#2f7f70"/>
<path d="M660.1,1159.2 691.2,1165.0 722.4,1170.7 753.6,1176.2 784.8,1181.5 816.1,1186.6 804.7,1257.9 840.0,1263.4 875.3,1268.7 910.7,1273.7 871.3,1560.5 843.2,1556.6 815.1,1552.5 787.1,1548.2 759.0,1543.8 731.0,1539.3 703.0,1534.6 675.1,1529.7 647.1,1524.7 619.2,1519.6 591.3,1514.3 660.1,1159.2Z" fill="#1f605a"/>
<path d="M2396.3,1519.5 2383.9,1533.2 2370.3,1544.2 2359.3,1557.8 2348.4,1568.8 2334.7,1577.0 2321.0,1588.0 2308.7,1595.6 2347.2,1589.9 2384.8,1584.8 2425.1,1576.6 2452.1,1575.2 2481.9,1570.6 2511.6,1566.0 2541.4,1561.1 2571.1,1556.1 2600.8,1551.0 2630.4,1545.6 2660.0,1540.1 2689.6,1534.5 2719.2,1528.6 2742.5,1524.5 2742.2,1505.5 2719.3,1503.2 2696.5,1491.8 2685.1,1482.7 2703.4,1487.2 2719.3,1491.8 2710.5,1485.2 2705.7,1479.3 2696.2,1471.0 2686.7,1462.6 2696.2,1463.8 2706.9,1461.4 2714.0,1466.2 2712.9,1459.1 2705.7,1450.7 2696.2,1443.6 2681.9,1434.1 2667.6,1426.9 2658.1,1419.8 2667.6,1421.0 2681.9,1426.9 2697.4,1432.9 2705.7,1436.4 2708.1,1431.7 2693.8,1426.9 2681.9,1421.0 2670.0,1416.2 2659.3,1410.2 2654.5,1407.9 2647.4,1407.9 2643.8,1401.9 2646.2,1393.6 2651.0,1386.4 2655.7,1380.5 2656.9,1373.3 2652.1,1366.2 2647.4,1363.8 2640.2,1363.8 2634.9,1361.8 2625.8,1357.2 2619.0,1348.1 2608.7,1341.2 2605.3,1354.9 2577.9,1344.7 2573.4,1368.6 2564.2,1384.6 2557.4,1389.1 2548.3,1396.0 2546.0,1407.4 2536.9,1418.8 2530.0,1427.9 2514.1,1434.8 2507.2,1448.4 2502.6,1469.0 2491.2,1487.2 2484.4,1500.9 2468.4,1512.3 2457.0,1514.6 2445.6,1523.7 2429.7,1526.0 2413.7,1530.6 2405.8,1530.5 2396.3,1519.5ZM2736.7,1418.6 2752.1,1413.8 2749.8,1426.9 2745.0,1440.0 2739.1,1454.3 2735.5,1471.0 2733.1,1459.1 2735.5,1444.8 2739.1,1432.9 2741.4,1423.3 2736.7,1418.6Z" fill="#2f7f70"/>
<path d="M2747.1,900.0 2751.7,913.7 2755.1,929.7 2759.7,941.1 2760.8,963.7 2764.7,975.1 2768.3,988.8 2770.6,996.8 2775.2,993.8 2779.1,1007.0 2784.8,1027.6 2791.1,1050.4 2829.2,1043.5 2824.7,1039.0 2827.0,1025.3 2825.8,1011.6 2822.4,995.6 2820.1,979.7 2822.4,963.7 2824.7,945.7 2825.8,932.0 2832.7,925.1 2839.5,916.0 2841.8,902.3 2836.1,890.9 2837.2,877.2 2747.1,900.0Z" fill="#2f7f70"/>
<path d="M235.1,739.6 238.3,728.4 243.1,718.8 246.5,706.0 248.3,700.5 259.2,695.0 247.4,687.7 248.3,660.4 250.1,637.6 246.5,623.9 243.7,614.7 245.5,598.3 251.0,590.1 261.1,599.2 271.1,609.3 283.9,615.7 297.6,622.0 311.2,626.6 316.7,631.2 322.2,635.7 327.7,640.3 332.2,647.6 327.7,660.4 324.9,674.0 311.2,687.7 300.3,695.0 302.1,700.5 315.8,701.4 329.5,695.0 338.6,687.7 342.3,674.0 347.7,655.8 355.9,644.9 353.2,633.0 351.4,616.6 356.9,603.8 356.9,590.1 350.5,580.1 350.1,575.1 374.9,576.6 398.8,583.3 422.7,589.9 446.7,596.3 470.7,602.6 494.7,608.8 518.8,614.8 542.8,620.7 567.0,626.5 591.1,632.1 615.3,637.7 574.5,816.7 578.4,830.6 573.6,840.2 573.0,848.2 548.5,841.6 523.2,835.7 498.0,829.7 471.4,824.2 442.7,822.6 423.5,823.6 404.4,825.8 378.8,824.2 359.7,822.6 343.7,814.6 327.7,809.8 305.4,811.4 291.0,803.5 285.6,792.3 285.6,769.9 281.4,760.3 268.7,754.0 251.1,744.4 235.1,739.6Z" fill="#1f605a"/>
<path d="M1855.5,1136.8 1864.0,1149.2 1862.5,1165.1 1870.4,1184.3 1888.0,1193.9 1895.3,1206.0 1920.0,1203.7 1949.7,1201.7 1979.5,1199.6 2009.2,1197.3 2079.6,1192.3 2072.7,1143.0 2071.1,1095.1 2077.5,1026.5 2098.3,991.4 2075.9,980.2 2056.7,983.4 2050.4,999.3 2040.8,1005.7 2031.2,1002.5 2029.6,988.2 2021.6,983.4 2018.4,967.4 2007.2,961.0 1999.3,953.0 1973.7,945.1 1948.2,937.1 1922.6,932.3 1897.1,927.5 1888.1,914.7 1903.5,862.7 1873.1,862.7 1801.3,905.1 1794.9,909.9 1794.9,951.4 1788.5,957.8 1772.5,969.0 1766.1,983.4 1770.9,994.5 1775.7,1002.5 1774.1,1018.5 1772.5,1034.5 1774.1,1047.2 1782.1,1056.8 1794.9,1063.2 1807.7,1071.2 1820.4,1085.6 1833.2,1095.1 1847.6,1103.1 1854.0,1117.5 1855.5,1136.8Z" fill="#2f7f70"/>
<path d="M2442.0,1278.6 2435.9,1284.1 2440.1,1297.8 2438.7,1314.2 2430.5,1330.7 2422.3,1347.1 2414.0,1363.5 2403.1,1374.5 2394.9,1388.1 2390.8,1401.8 2389.4,1412.8 2378.5,1426.5 2373.0,1440.1 2364.8,1448.4 2356.0,1453.3 2353.8,1467.5 2359.3,1481.2 2370.3,1494.9 2381.2,1503.1 2392.2,1511.3 2396.3,1519.5 2405.8,1530.5 2413.7,1530.6 2429.7,1526.0 2445.6,1523.7 2457.0,1514.6 2468.4,1512.3 2484.4,1500.9 2491.2,1487.2 2502.6,1469.0 2507.2,1448.4 2514.1,1434.8 2530.0,1427.9 2536.9,1418.8 2546.0,1407.4 2548.3,1396.0 2557.4,1389.1 2564.2,1384.6 2573.4,1368.6 2577.9,1344.7 2605.3,1354.9 2608.7,1341.2 2604.1,1333.3 2598.4,1327.6 2589.3,1325.3 2580.2,1326.4 2571.1,1328.7 2564.2,1332.1 2557.4,1337.8 2551.7,1335.5 2546.0,1337.8 2539.1,1348.1 2532.3,1348.1 2524.3,1357.2 2516.3,1366.3 2512.2,1332.4 2454.7,1342.4 2442.0,1278.6Z" fill="#d3e4dd"/>
<path d="M816.1,1186.6 843.5,1011.0 850.0,973.2 876.9,977.4 903.8,981.5 930.8,985.4 957.8,989.2 984.7,992.8 1011.8,996.2 1038.8,999.5 1065.8,1002.7 1092.9,1005.7 1120.0,1008.5 1147.1,1011.2 1174.2,1013.7 1201.4,1016.1 1189.4,1159.5 1177.2,1303.4 1147.5,1300.8 1117.8,1298.0 1088.2,1295.1 1058.5,1292.0 1028.9,1288.6 999.3,1285.2 969.8,1281.5 940.2,1277.7 910.7,1273.7 875.3,1268.7 840.0,1263.4 804.7,1257.9 816.1,1186.6Z" fill="#2f7f70"/>
<path d="M411.0,2446.5 391.9,2452.9 372.7,2459.3 353.5,2464.7 334.4,2467.2 315.2,2467.9 296.1,2466.6 276.9,2463.4 257.7,2458.3 238.6,2453.8 222.6,2446.5 209.8,2441.1 198.7,2432.8 182.7,2417.7 168.3,2402.7 157.1,2392.2" fill="none" stroke="#ffffff" stroke-width="6.5" stroke-linecap="round" stroke-dasharray="2 9 7 8 1 10 5 8 9 9"/>
<path d="M669.7,2328.3 685.7,2336.3 701.6,2334.7 708.0,2328.3 720.8,2339.5 736.7,2352.3 755.9,2365.1 778.3,2377.8 789.4,2387.4 791.0,2403.4 781.5,2408.2 765.5,2414.5 752.7,2406.6 746.3,2393.8 730.4,2384.2 717.6,2374.6 704.8,2365.1 692.0,2357.1 679.3,2349.1 666.5,2341.1Z" fill="#ffffff" stroke-width="3"/>
<path d="M704.8,2337.9 709.6,2333.1 715.0,2342.7 721.4,2355.5 715.0,2352.9 708.6,2346.5ZM730.4,2355.5 737.4,2361.9 740.6,2372.1 733.6,2368.9ZM765.5,2381.7 781.5,2384.9 786.2,2397.0 778.3,2398.6 768.7,2391.2ZM746.3,2371.4 752.7,2376.2 755.3,2385.8 749.5,2381.0Z" fill="#2f7f70" stroke="none"/>
<path d="M513.2,2131.9 522.8,2139.9 538.8,2143.1 554.7,2147.9 577.1,2147.9 599.4,2151.1 618.6,2154.3 652.1,2331.5 666.5,2334.7 672.9,2330.6 682.5,2341.1 696.8,2352.3 692.0,2355.5 677.7,2347.5 663.3,2340.1 652.1,2337.9 637.8,2337.0 621.8,2338.9 615.4,2330.6 602.6,2333.8 593.0,2324.2 583.5,2327.4 578.7,2344.3 570.7,2342.7 561.1,2352.3 554.7,2358.7 557.9,2345.9 567.5,2336.3 577.1,2323.5 572.3,2318.7 557.9,2329.9 545.1,2342.7 538.8,2355.5 529.2,2365.1 522.8,2377.8 513.2,2387.4 503.6,2397.0 490.9,2406.6 478.1,2416.1 465.3,2422.5 449.3,2432.1 436.6,2438.5 417.4,2444.2 411.0,2446.5 428.6,2435.9 449.3,2425.7 462.1,2419.3 474.9,2409.8 484.5,2400.2 494.0,2387.4 502.0,2374.6 500.4,2365.1 487.7,2371.4 478.1,2365.1 465.3,2366.6 455.7,2363.5 452.5,2352.3 449.3,2339.5 452.5,2330.6 438.2,2342.7 427.0,2337.0 430.2,2323.5 423.8,2310.8 427.0,2298.0 436.6,2289.0 449.3,2283.6 450.9,2272.4 449.3,2253.9 433.4,2250.1 430.2,2240.5 423.2,2230.9 436.6,2224.5 449.3,2218.2 452.5,2226.1 465.3,2227.7 481.3,2222.9 478.1,2211.8 468.5,2208.6 458.9,2202.2 452.5,2189.4 446.1,2179.8 444.5,2173.4 462.1,2163.9 474.9,2151.1 494.0,2144.7ZM404.6,2336.3 412.6,2333.1 415.8,2337.9 409.4,2340.1ZM526.0,2400.2 535.6,2393.8 545.1,2397.0 541.9,2403.4 530.8,2405.0ZM385.5,2259.7 390.3,2261.3 395.1,2269.3 391.2,2268.6Z" fill="#2f7f70" stroke-width="4.5"/>
<path d="M901.2,2309.4 904.6,2303.8 911.3,2298.2 913.5,2297.1 909.1,2303.8 902.4,2310.5ZM939.2,2292.6 944.8,2284.8 953.8,2281.0 964.9,2280.3 972.8,2282.5 975.0,2290.4 971.7,2299.3 966.1,2304.9 956.0,2304.9 947.1,2300.4ZM1066.7,2333.9 1076.7,2331.7 1084.5,2323.9 1089.0,2328.4 1092.4,2337.3 1100.2,2344.0 1108.0,2351.8 1103.5,2355.2 1094.6,2351.8 1089.0,2347.4 1083.4,2351.8 1076.7,2352.9 1072.2,2344.0ZM1143.8,2369.7 1150.5,2364.1 1163.9,2366.8 1177.3,2368.1 1188.5,2368.6 1181.8,2373.1 1170.6,2373.1 1157.2,2370.4ZM1165.0,2389.2 1172.8,2388.3 1179.5,2392.1 1179.5,2397.7 1172.8,2399.4 1168.4,2394.3ZM1194.1,2384.2 1198.5,2380.2 1204.1,2383.1 1208.6,2389.8 1215.3,2387.6 1228.7,2386.5 1239.9,2393.2 1248.8,2398.8 1246.6,2405.5 1237.7,2408.8 1226.5,2411.5 1217.5,2411.1 1213.1,2402.1 1208.6,2395.4 1199.7,2393.2ZM1194.1,2417.3 1201.9,2414.4 1203.0,2417.8 1196.3,2418.9ZM1260.0,2445.7 1266.7,2443.5 1273.4,2448.0 1282.4,2453.5 1295.8,2455.8 1309.2,2460.2 1320.4,2467.0 1327.1,2478.1 1331.6,2487.1 1338.3,2496.0 1345.0,2503.8 1336.0,2511.7 1322.6,2518.4 1304.7,2527.3 1289.1,2536.2 1277.9,2548.5 1269.0,2543.0 1260.0,2536.2 1260.0,2520.6 1255.5,2505.0 1248.8,2491.5 1247.7,2483.7 1257.8,2473.7 1264.5,2462.5 1263.4,2453.5Z" fill="#e9a646" stroke-width="4.5"/>
<path d="M2651.5,1365.5 L2656,1368.5 L2653,1372.5 L2648.5,1369.5Z" fill="#1e2b40" stroke-width="2"/>
<path d="M2790.3,1203.3 2794.3,1199.3 2805.3,1190.3 2818.4,1184.2 2830.4,1178.2 2845.4,1173.2 2858.5,1168.2 2868.5,1164.2 2876.6,1162.2 2870.5,1167.2 2860.5,1174.2 2859.5,1177.7 2850.5,1182.2 2840.4,1187.2 2830.4,1192.3 2820.4,1197.3 2810.3,1203.3 2800.3,1207.3 2792.3,1210.3 2789.2,1211.3 2790.3,1206.3Z" fill="#1f605a"/>
<path d="M2779.2,1215.3 2782.2,1213.3 2783.2,1217.3 2780.2,1220.4Z" fill="#1f605a" stroke-width="2.5"/>
<path d="M329.5,649.4 320.4,656.7 307.6,667.7 299.4,676.8 306.7,678.6 316.7,677.7" fill="none" stroke-width="5" stroke-linecap="round"/>
<path d="M324.9,591.0 338.6,590.1 343.2,598.3 338.6,607.4 327.7,605.6 323.1,598.3Z" fill="#ffffff"/>
<path d="M333.1,616.6 347.7,614.7 351.4,623.9 345.9,651.2 338.6,674.0 329.5,687.7 311.2,696.9 302.1,696.9 311.2,689.6 324.9,678.6 329.5,660.4 333.1,646.7Z" fill="#ffffff" stroke="none"/>
<path d="M2976.7,1078.8 2979.7,1070.3 2975.7,1064.2 2968.7,1060.2 2960.6,1060.2" fill="none" stroke-width="4" stroke-linecap="round"/>
<path d="M2946.6,1114.4 2950.1,1110.4 2953.1,1113.4Z" fill="#1e2b40" stroke-width="3"/>
<path d="M2981.2,1114.4 2983.7,1112.2 2985.7,1114.4Z" fill="#1e2b40" stroke-width="3"/>
<path d="M141.4,1333.7 152.6,1324.1 165.4,1328.9 181.3,1332.1 200.5,1346.5 181.3,1344.9 165.4,1338.5 152.6,1338.5 151.0,1351.3 159.0,1367.2 160.6,1378.4 152.6,1373.6 146.2,1354.5 141.4,1344.9Z" fill="#ffffff" stroke-width="2"/>
<ellipse cx="1971.5" cy="2082.6" rx="17" ry="10" fill="#f4f1ec" stroke-width="3.2" transform="rotate(-15 1971.5 2082.6)"/>
<path d="M2640.8,2345.6 2639.2,2364.7 2624.8,2387.1 2605.7,2399.8 2589.7,2404.6" fill="none" stroke-width="3" stroke-linecap="round"/>
<path d="M1534.4,2410.9 1526.4,2347.1 1528.0,2315.1 1544.0,2276.8 1575.9,2241.7 1607.8,2219.3" fill="none" stroke-width="3" stroke-linecap="round"/>
<path d="M2749.3,1528.7 2771.6,1557.5 2790.8,1595.8 2774.8,1624.5 2755.7,1640.5 2739.7,1661.3" fill="none" stroke-width="3.5" stroke-linecap="round"/>
<circle cx="2987.8" cy="900.0" r="4" fill="#ffffff" stroke="none"/>
<circle cx="2978.6" cy="895.5" r="3.5" fill="#ffffff" stroke="none"/>
<circle cx="3002.6" cy="894.3" r="4" fill="#ffffff" stroke="none"/>
<circle cx="3012.9" cy="879.5" r="3.5" fill="#ffffff" stroke="none"/>
<circle cx="3022.0" cy="868.1" r="3.5" fill="#ffffff" stroke="none"/>
<circle cx="3033.4" cy="859.0" r="3.5" fill="#ffffff" stroke="none"/>
<circle cx="3044.8" cy="846.4" r="3.5" fill="#ffffff" stroke="none"/>
<circle cx="2946.7" cy="934.2" r="4" fill="#ffffff" stroke="none"/>
<circle cx="2958.1" cy="925.1" r="4" fill="#ffffff" stroke="none"/>
<circle cx="2937.6" cy="943.4" r="3.5" fill="#ffffff" stroke="none"/>
<circle cx="2969.5" cy="916.0" r="3.5" fill="#ffffff" stroke="none"/>
<circle cx="2928.5" cy="957.1" r="3" fill="#ffffff" stroke="none"/>
<circle cx="186.2" cy="1641.6" r="3.2" fill="#ffffff" stroke="none"/>
<circle cx="202.2" cy="1649.6" r="3.2" fill="#ffffff" stroke="none"/>
<circle cx="227.7" cy="1651.2" r="3.2" fill="#ffffff" stroke="none"/>
<circle cx="222.9" cy="1708.7" r="3.2" fill="#ffffff" stroke="none"/>
<circle cx="285.2" cy="1710.3" r="3.2" fill="#ffffff" stroke="none"/>
<circle cx="275.6" cy="1745.4" r="3.2" fill="#ffffff" stroke="none"/>
</g>
<g fill="none" stroke="#1c2a3f" stroke-width="2.6"><rect x="94.4" y="1983.8" width="732.6" height="613.6"/><rect x="885.5" y="2220" width="472" height="377.4"/></g>
<g stroke="#4a4543" stroke-width="4" stroke-linecap="round">
<line x1="2797.3" y1="986.5" x2="3165.4" y2="802.1"/>
<line x1="2858.9" y1="999.0" x2="3165.4" y2="944.6"/>
<line x1="2873.7" y1="1101.0" x2="3283.4" y2="1110.1"/>
<line x1="2896.5" y1="1138.9" x2="3283.4" y2="1251.3"/>
<line x1="2837.2" y1="1157.6" x2="3282.5" y2="1392.9"/>
<line x1="2760.0" y1="1283.6" x2="3282.5" y2="1558.4"/>
<line x1="2734.2" y1="1376.6" x2="3282.5" y2="1700.9"/>
<line x1="2663.5" y1="1386.9" x2="3282.5" y2="1842.6"/>
<line x1="2654.3" y1="1399.4" x2="3282.5" y2="1984.2"/>
</g>
<g font-family="'Liberation Sans', Arial, sans-serif" font-weight="700" font-size="38.0" stroke-linejoin="round" paint-order="stroke">
<text transform="translate(336.0,724.1) scale(1.04,1)" fill="#ffffff" stroke="#1c2a3f" stroke-width="9.5">WA $625k</text>
<text transform="translate(268.7,961.7) scale(1.04,1)" fill="#ffffff" stroke="#1c2a3f" stroke-width="9.5">OR $510k</text>
<text transform="translate(583.3,998.9) scale(1.04,1)" fill="#ffffff" stroke="#1c2a3f" stroke-width="9.5">ID $485k</text>
<text transform="translate(851.7,853.4) scale(1.04,1)" fill="#ffffff" stroke="#1c2a3f" stroke-width="9.5">MT $460k</text>
<text transform="translate(1301.8,868.1) scale(1.04,1)" fill="#1c2a3f" stroke="#ffffff" stroke-width="9.5">ND $320k</text>
<text transform="translate(1606.8,950.9) scale(1.04,1)" fill="#1c2a3f" stroke="#ffffff" stroke-width="9.5">MN $365k</text>
<text transform="translate(1846.1,1061.3) scale(1.04,1)" fill="#1c2a3f" stroke="#ffffff" stroke-width="9.5">WI $315k</text>
<text transform="translate(2051.1,1028.7) scale(1.04,1)" fill="#1c2a3f" stroke="#ffffff" stroke-width="9.5">MI $290k</text>
<text transform="translate(2850.0,830.8) scale(1.04,1)" fill="#1c2a3f" stroke="#ffffff" stroke-width="9.5">ME $405k</text>
<text transform="translate(2569.7,1074.8) scale(1.04,1)" fill="#ffffff" stroke="#1c2a3f" stroke-width="9.5">NY $540k</text>
<text transform="translate(1306.2,1083.9) scale(1.04,1)" fill="#1c2a3f" stroke="#ffffff" stroke-width="9.5">SD $305k</text>
<text transform="translate(915.9,1154.0) scale(1.04,1)" fill="#1c2a3f" stroke="#ffffff" stroke-width="9.5">WY $335k</text>
<text transform="translate(1662.9,1254.2) scale(1.04,1)" fill="#1c2a3f" stroke="#ffffff" stroke-width="9.5">IA $265k</text>
<text transform="translate(1319.9,1292.1) scale(1.04,1)" fill="#1c2a3f" stroke="#ffffff" stroke-width="9.5">NE $295k</text>
<text transform="translate(395.4,1333.4) scale(1.04,1)" fill="#ffffff" stroke="#1c2a3f" stroke-width="9.5">NV $470k</text>
<text transform="translate(664.8,1386.2) scale(1.04,1)" fill="#ffffff" stroke="#1c2a3f" stroke-width="9.5">UT $540k</text>
<text transform="translate(992.8,1453.9) scale(1.04,1)" fill="#ffffff" stroke="#1c2a3f" stroke-width="9.5">CO $580k</text>
<text transform="translate(206.7,1447.5) scale(1.04,1)" fill="#1c2a3f" stroke="#ffffff" stroke-width="9.5">CA $815k</text>
<text transform="translate(1389.4,1512.9) scale(1.04,1)" fill="#1c2a3f" stroke="#ffffff" stroke-width="9.5">KS $275k</text>
<text transform="translate(1713.1,1520.9) scale(1.04,1)" fill="#1c2a3f" stroke="#ffffff" stroke-width="9.5">MO $290k</text>
<text transform="translate(1905.6,1385.2) scale(1.04,1)" fill="#1c2a3f" stroke="#ffffff" stroke-width="9.5">IL $325k</text>
<text transform="translate(2075.1,1451.4) scale(1.04,1)" fill="#1c2a3f" stroke="#ffffff" stroke-width="9.5">IN $275k</text>
<text transform="translate(2235.8,1325.4) scale(1.04,1)" fill="#1c2a3f" stroke="#ffffff" stroke-width="9.5">OH $275k</text>
<text transform="translate(2496.4,1247.8) scale(1.04,1)" fill="#1c2a3f" stroke="#ffffff" stroke-width="9.5">PA $330k</text>
<text transform="translate(2366.9,1435.3) scale(1.04,1)" fill="#1c2a3f" stroke="#ffffff" stroke-width="9.5">WV $167k</text>
<text transform="translate(2482.6,1496.7) scale(1.04,1)" fill="#1c2a3f" stroke="#ffffff" stroke-width="9.5">VA $435k</text>
<text transform="translate(2122.8,1548.4) scale(1.04,1)" fill="#1c2a3f" stroke="#ffffff" stroke-width="9.5">KY $250k</text>
<text transform="translate(2077.4,1676.1) scale(1.04,1)" fill="#1c2a3f" stroke="#ffffff" stroke-width="9.5">TN $360k</text>
<text transform="translate(2476.1,1642.2) scale(1.04,1)" fill="#1c2a3f" stroke="#ffffff" stroke-width="9.5">NC $395k</text>
<text transform="translate(2410.1,1773.1) scale(1.04,1)" fill="#1c2a3f" stroke="#ffffff" stroke-width="9.5">SC $395k</text>
<text transform="translate(2272.1,1886.2) scale(1.04,1)" fill="#1c2a3f" stroke="#ffffff" stroke-width="9.5">GA $390k</text>
<text transform="translate(2072.1,1899.2) scale(1.04,1)" fill="#1c2a3f" stroke="#ffffff" stroke-width="9.5">AL $235k</text>
<text transform="translate(1896.4,1970.3) scale(1.04,1)" fill="#1c2a3f" stroke="#ffffff" stroke-width="9.5">MS $185k</text>
<text transform="translate(1728.6,1769.8) scale(1.04,1)" fill="#1c2a3f" stroke="#ffffff" stroke-width="9.5">AR $215k</text>
<text transform="translate(1432.5,1721.4) scale(1.04,1)" fill="#1c2a3f" stroke="#ffffff" stroke-width="9.5">OK $245k</text>
<text transform="translate(1321.3,2015.5) scale(1.04,1)" fill="#1c2a3f" stroke="#ffffff" stroke-width="9.5">TX $315k</text>
<text transform="translate(1766.2,2043.0) scale(1.04,1)" fill="#1c2a3f" stroke="#ffffff" stroke-width="9.5">LA $225k</text>
<text transform="translate(2378.2,2162.6) scale(1.04,1)" fill="#1c2a3f" stroke="#ffffff" stroke-width="9.5">FL $400k</text>
<text transform="translate(605.0,1744.0) scale(1.04,1)" fill="#ffffff" stroke="#1c2a3f" stroke-width="9.5">AZ $475k</text>
<text transform="translate(925.5,1779.4) scale(1.04,1)" fill="#1c2a3f" stroke="#ffffff" stroke-width="9.5">NM $335k</text>
<text transform="translate(453.3,2278.8) scale(1.04,1)" fill="#1c2a3f" stroke="#ffffff" stroke-width="9.5">AK $395k</text>
<text transform="translate(927.6,2542.4) scale(1.04,1)" fill="#1c2a3f">HI $880k</text>
<text transform="translate(3180.1,806.3) scale(1.04,1)" fill="#1c2a3f">VT $410k</text>
<text transform="translate(3180.1,948.0) scale(1.04,1)" fill="#1c2a3f">NH $525k</text>
<text transform="translate(3297.2,1112.6) scale(1.04,1)" fill="#1c2a3f">MA $650k</text>
<text transform="translate(3297.2,1254.2) scale(1.04,1)" fill="#1c2a3f">RI $505k</text>
<text transform="translate(3297.2,1395.5) scale(1.04,1)" fill="#1c2a3f">CT $475k</text>
<text transform="translate(3297.2,1561.7) scale(1.04,1)" fill="#1c2a3f">NJ $605k</text>
<text transform="translate(3297.2,1703.4) scale(1.04,1)" fill="#1c2a3f">DE $405k</text>
<text transform="translate(3297.2,1845.0) scale(1.04,1)" fill="#1c2a3f">MD $475k</text>
<text transform="translate(3297.2,1986.7) scale(1.04,1)" fill="#1c2a3f">DC $720k</text>
</g>
<text transform="translate(123,169.5) scale(0.9533,1)" font-family="'Liberation Sans', Arial, sans-serif" font-size="101" font-weight="700" font-style="normal" fill="#1c2a3f">Average House Prices by US State 2026</text>
<text transform="translate(125.5,240.2) scale(0.9904,1)" font-family="'Liberation Sans', Arial, sans-serif" font-size="47.5" font-weight="400" font-style="normal" fill="#6b7280">Zillow Home Value Index (ZHVI), all homes · January 2026 snapshot · US typical home value $365,000</text>
<text transform="translate(100.5,1977) scale(0.9144,1)" font-family="'Liberation Sans', Arial, sans-serif" font-size="39" font-weight="700" font-style="normal" fill="#1c2a3f">Alaska</text>
<text transform="translate(891.5,2213) scale(0.9389,1)" font-family="'Liberation Sans', Arial, sans-serif" font-size="39" font-weight="700" font-style="normal" fill="#1c2a3f">Hawaii</text>
<text transform="translate(110.5,2667.6) scale(0.9762,1)" font-family="'Liberation Sans', Arial, sans-serif" font-size="50" font-weight="700" font-style="normal" fill="#1c2a3f">mappr.co</text>
<text transform="translate(1925,2444.2) scale(0.9872,1)" font-family="'Liberation Sans', Arial, sans-serif" font-size="45" font-weight="700" font-style="normal" fill="#1c2a3f">Typical home value (ZHVI, Jan 2026) · +14 % vs. 2022</text>
<text transform="translate(1925,2664) scale(0.9484,1)" font-family="'Liberation Sans', Arial, sans-serif" font-size="42" font-weight="400" font-style="italic" fill="#6b7280">Source: Zillow Home Value Index (ZHVI), all homes, January 2026.</text>
<rect x="1919.2" y="2468.6" width="235.6" height="81.8" fill="#d3e4dd" stroke="#1c2a3f" stroke-width="2.2"/>
<text transform="translate(1924.6,2595.8) scale(1.0450,1)" font-family="'Liberation Sans', Arial, sans-serif" font-size="38" font-weight="400" font-style="normal" fill="#1c2a3f">&lt;$200k</text>
<rect x="2172.9" y="2468.6" width="235.6" height="81.8" fill="#9dc0b4" stroke="#1c2a3f" stroke-width="2.2"/>
<text transform="translate(2178.3,2595.8) scale(1.0450,1)" font-family="'Liberation Sans', Arial, sans-serif" font-size="38" font-weight="400" font-style="normal" fill="#1c2a3f">$200–300k</text>
<rect x="2426.6" y="2468.6" width="235.6" height="81.8" fill="#2f7f70" stroke="#1c2a3f" stroke-width="2.2"/>
<text transform="translate(2432.0,2595.8) scale(1.0450,1)" font-family="'Liberation Sans', Arial, sans-serif" font-size="38" font-weight="400" font-style="normal" fill="#1c2a3f">$300–450k</text>
<rect x="2680.3" y="2468.6" width="235.6" height="81.8" fill="#1f605a" stroke="#1c2a3f" stroke-width="2.2"/>
<text transform="translate(2685.7,2595.8) scale(1.0450,1)" font-family="'Liberation Sans', Arial, sans-serif" font-size="38" font-weight="400" font-style="normal" fill="#1c2a3f">$450–650k</text>
<rect x="2934.0" y="2468.6" width="235.6" height="81.8" fill="#1e2b40" stroke="#1c2a3f" stroke-width="2.2"/>
<text transform="translate(2939.4,2595.8) scale(1.0450,1)" font-family="'Liberation Sans', Arial, sans-serif" font-size="38" font-weight="400" font-style="normal" fill="#1c2a3f">$650–800k</text>
<rect x="3187.7" y="2468.6" width="235.6" height="81.8" fill="#e9a646" stroke="#1c2a3f" stroke-width="2.2"/>
<text transform="translate(3193.1,2595.8) scale(1.0450,1)" font-family="'Liberation Sans', Arial, sans-serif" font-size="38" font-weight="400" font-style="normal" fill="#1c2a3f">$800k+</text>
</svg>
</body></html>
